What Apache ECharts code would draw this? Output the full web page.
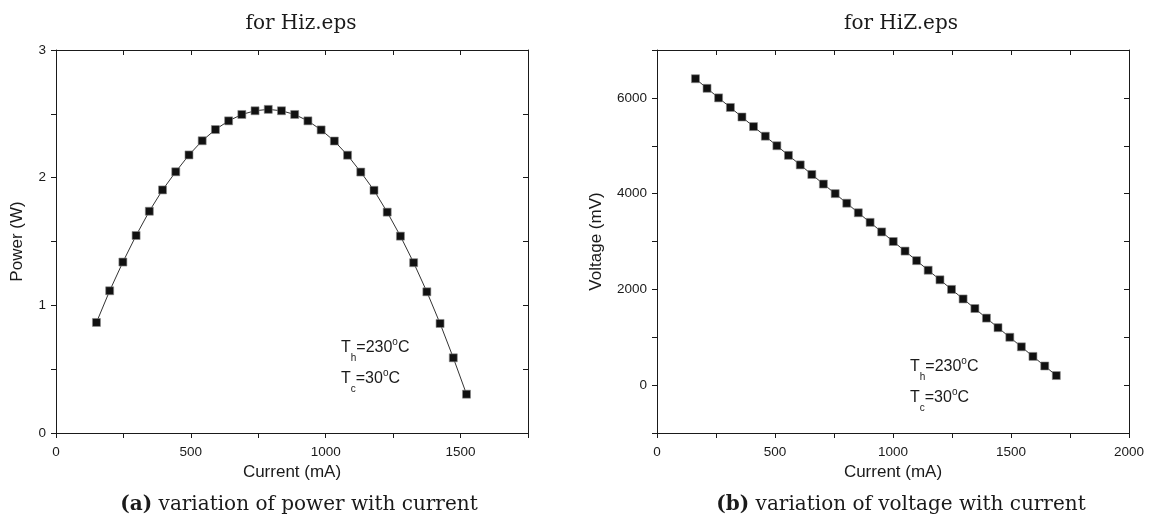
<!DOCTYPE html>
<html>
<head>
<meta charset="utf-8">
<title>Power and voltage vs current</title>
<script src="https://cdn.jsdelivr.net/npm/echarts@6/dist/echarts.min.js"></script>
<style>
  html, body { margin: 0; padding: 0; background: #fff; }
  #chart { width: 1149px; height: 529px; }
</style>
</head>
<body>
<div id="chart"></div>
<script>
// (a) power vs current
const powerCurrent = [150, 199, 248, 297, 346, 395, 444, 493, 542, 591, 640, 689, 738, 787, 836,
  885, 934, 983, 1032, 1081, 1130, 1179, 1228, 1277, 1326, 1375, 1424, 1473, 1522];
const powerValues = [0.866, 1.114, 1.339, 1.547, 1.737, 1.904, 2.046, 2.178, 2.289, 2.377, 2.445,
  2.495, 2.524, 2.535, 2.524, 2.495, 2.445, 2.374, 2.287, 2.176, 2.044, 1.901, 1.73, 1.542,
  1.334, 1.106, 0.858, 0.589, 0.304];

// (b) voltage vs current
const voltCurrent = [163, 212, 261, 311, 360, 409, 459, 508, 557, 607, 656, 705, 755, 804, 853,
  903, 952, 1001, 1051, 1100, 1149, 1199, 1248, 1297, 1347, 1396, 1445, 1495, 1544, 1593, 1643, 1692];
const voltValues = [6400, 6200, 6000, 5800, 5600, 5400, 5200, 5000, 4800, 4600, 4400, 4200, 4000,
  3800, 3600, 3400, 3200, 3000, 2800, 2600, 2400, 2200, 2000, 1800, 1600, 1400, 1200, 1000,
  800, 600, 400, 200];

const titles = ['for Hiz.eps', 'for HiZ.eps'];
const captions = [['(a)', 'variation of power with current'], ['(b)', 'variation of voltage with current']];
const annotation = [['h', '230'], ['c', '30']];

const SANS = 'Liberation Sans';
const SERIF = 'DejaVu Serif';
const INK = '#1a1a1a';

const zip = (xs, ys) => xs.map((x, i) => [x, ys[i]]);

// one axis of a grid; top/right ones are mirrors without labels
function valueAxis(gridIndex, position, range, step, extra = {}) {
  const mirrored = position === 'top' || position === 'right';
  return Object.assign({
    type: 'value',
    gridIndex,
    position,
    min: range[0],
    max: range[1],
    interval: step,
    axisLine: { show: true, onZero: false, lineStyle: { color: INK, width: 1 } },
    axisTick: { show: true, inside: mirrored, length: 5, lineStyle: { color: INK } },
    axisLabel: { show: !mirrored },
    splitLine: { show: false },
  }, extra);
}

const tickLabel = (margin, formatter) => ({
  color: INK, fontFamily: SANS, fontSize: 13.5, margin, formatter,
});

const xName = {
  name: 'Current (mA)', nameLocation: 'middle', nameGap: 31,
  nameTextStyle: { color: INK, fontFamily: SANS, fontSize: 17 },
};
const yNameStyle = { color: INK, fontFamily: SANS, fontSize: 17 };

function annotationText(x, y) {
  const lines = annotation.map(a => `{n|T}{sub|${a[0]}}{n|=${a[1]}}{sup|o}{n|C}`);
  return {
    type: 'text', x, y,
    style: {
      text: lines.join('\n'),
      fill: INK,
      font: `16px "${SANS}"`,
      lineHeight: 31,
      rich: {
        n: { fontSize: 16, fontFamily: SANS, fill: INK, lineHeight: 31 },
        sub: { fontSize: 10, fontFamily: SANS, fill: INK, verticalAlign: 'bottom', lineHeight: 19 },
        sup: { fontSize: 10, fontFamily: SANS, fill: INK, verticalAlign: 'top',
          lineHeight: 12, padding: [5, 0, 0, 0] },
      },
    },
  };
}

function captionText(cx, idx) {
  return {
    type: 'text', x: cx, y: 505,
    style: {
      text: `{b|${captions[idx][0]}} ${captions[idx][1]}`,
      align: 'center', verticalAlign: 'middle',
      fill: INK, font: `20px "${SERIF}"`,
      rich: { b: { fontWeight: 'bold', fontSize: 20, fontFamily: SERIF, fill: INK } },
    },
  };
}

const lineSeries = (data, xi, yi) => ({
  type: 'line',
  data,
  xAxisIndex: xi,
  yAxisIndex: yi,
  symbol: 'rect',
  symbolSize: 8,
  lineStyle: { color: '#333', width: 1 },
  itemStyle: { color: '#111', borderColor: '#8a8a8a', borderWidth: 0.6 },
  emphasis: { disabled: true },
  animation: false,
});

const option = {
  backgroundColor: '#fff',
  animation: false,
  title: [
    { text: titles[0], left: 296, top: 9, textAlign: 'center',
      textStyle: { fontFamily: SERIF, fontSize: 20, fontWeight: 'normal', color: INK } },
    { text: titles[1], left: 896, top: 9, textAlign: 'center',
      textStyle: { fontFamily: SERIF, fontSize: 20, fontWeight: 'normal', color: INK } },
  ],
  grid: [
    { left: 56, top: 50, width: 472, height: 383 },
    { left: 657, top: 50, width: 472, height: 383 },
  ],
  xAxis: [
    valueAxis(0, 'bottom', [0, 1750], 250, Object.assign({}, xName, {
      axisLabel: tickLabel(12, v => (v % 500 === 0 ? String(v) : '')),
    })),
    valueAxis(0, 'top', [0, 1750], 250),
    valueAxis(1, 'bottom', [0, 2000], 250, Object.assign({}, xName, {
      axisLabel: tickLabel(12, v => (v % 500 === 0 ? String(v) : '')),
    })),
    valueAxis(1, 'top', [0, 2000], 250),
  ],
  yAxis: [
    valueAxis(0, 'left', [0, 3], 0.5, {
      name: 'Power (W)', nameLocation: 'middle', nameGap: 30, nameTextStyle: yNameStyle,
      axisLabel: tickLabel(10, v => (v % 1 === 0 ? String(v) : '')),
    }),
    valueAxis(0, 'right', [0, 3], 0.5),
    valueAxis(1, 'left', [-1000, 7000], 1000, {
      name: 'Voltage (mV)', nameLocation: 'middle', nameGap: 52, nameTextStyle: yNameStyle,
      axisLabel: tickLabel(10, v => (v % 2000 === 0 && v >= 0 && v <= 6000 ? String(v) : '')),
    }),
    valueAxis(1, 'right', [-1000, 7000], 1000),
  ],
  series: [
    lineSeries(zip(powerCurrent, powerValues), 0, 0),
    lineSeries(zip(voltCurrent, voltValues), 2, 2),
  ],
  graphic: [
    annotationText(341, 332),
    annotationText(910, 351),
    captionText(299, 0),
    captionText(901, 1),
  ],
};

const myChart = echarts.init(document.getElementById('chart'));
myChart.setOption(option);
</script>
</body>
</html>
